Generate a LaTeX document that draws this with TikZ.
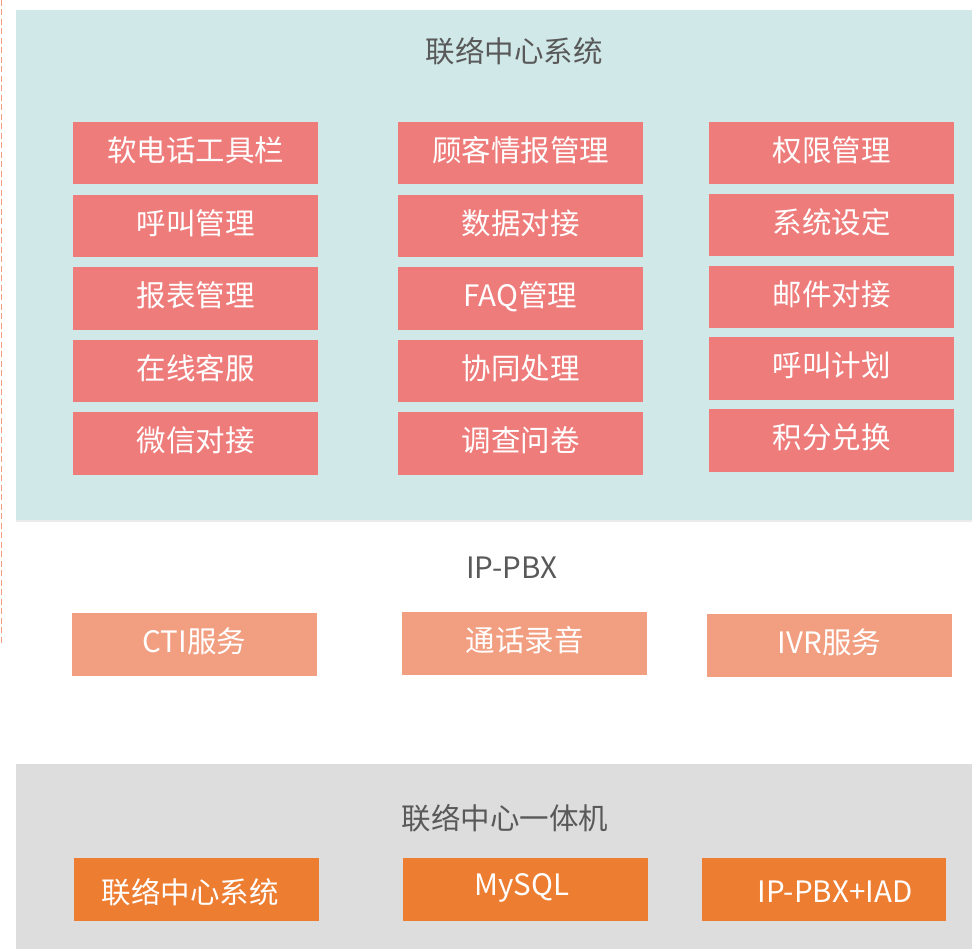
\documentclass[tikz,border=0pt]{standalone}
\usepackage{fontspec}
\setmainfont{Noto Sans CJK SC}
\definecolor{teal0}{HTML}{D0E9E8}
\definecolor{redbox}{HTML}{EE7C7B}
\definecolor{salbox}{HTML}{F29E80}
\definecolor{orbox}{HTML}{ED7D31}
\definecolor{graybg}{HTML}{DCDDDC}
\definecolor{titletxt}{HTML}{595959}
\definecolor{dashc}{HTML}{F29C80}
\tikzset{
  fbox/.style={anchor=north west, inner sep=0pt, outer sep=0pt, text=white,
     font=\fontsize{29.5}{32}\selectfont, minimum width=245pt, minimum height=62.5pt,
     text height=24pt, text depth=7.6pt},
  redb/.style={fbox, fill=redbox},
  salb/.style={fbox, fill=salbox},
  orb/.style={fbox, fill=orbox},
  ttl/.style={text=titletxt, font=\fontsize{29.5}{32}\selectfont, inner sep=0pt},
  wtxt/.style={text=white, font=\fontsize{29.5}{32}\selectfont, inner sep=0pt},
}
\begin{document}
\begin{tikzpicture}[x=1pt,y=-1pt]
\useasboundingbox (0,0) rectangle (972,949);
\fill[white] (0,0) rectangle (972,949);
% panels
\fill[graybg!60] (16,518) rectangle (972,522);
\fill[teal0] (16,10) rectangle (972,520);
\fill[graybg] (16,764) rectangle (972,949);
\draw[dashc, line width=1.5pt, dash pattern=on 6pt off 3.5pt] (1.5,0) -- (1.5,645);
% titles
\node[ttl] (t1) at (514,51) {联络中心系统};
\node[ttl] (t2) at (512,568) {IP-PBX};
\node[ttl] (t3) at (505,818) {联络中心一体机};
% column 1
\node[redb] (a1) at (73,122) {软电话工具栏};
\node[redb] (a2) at (73,195) {呼叫管理};
\node[redb] (a3) at (73,267.5) {报表管理};
\node[redb] (a4) at (73,340) {在线客服};
\node[redb] (a5) at (73,412.5) {微信对接};
% column 2
\node[redb] (b1) at (398,122) {顾客情报管理};
\node[redb] (b2) at (398,195) {数据对接};
\node[redb] (b3) at (398,267.5) {FAQ管理};
\node[redb] (b4) at (398,340) {协同处理};
\node[redb] (b5) at (398,412.5) {调查问卷};
% column 3
\node[redb] (c1) at (709,122) {权限管理};
\node[redb] (c2) at (709,194) {系统设定};
\node[redb] (c3) at (709,266) {邮件对接};
\node[redb] (c4) at (709,337.5) {呼叫计划};
\node[redb] (c5) at (709,409) {积分兑换};
% IP-PBX row
\node[salb] (d1) at (72,613) {CTI服务};
\node[salb] (d2) at (402,612) {通话录音};
\node[salb] (d3) at (707,614) {IVR服务};
% bottom row
\node[orb, minimum height=63pt] (e1) at (74,858) {};
\node[wtxt] (e1t) at (190,892) {联络中心系统};
\node[orb] (e2) at (403,858) {};
\node[wtxt] (e2t) at (522,888) {MySQL};
\node[orb, minimum width=244pt] (e3) at (702,858) {};
\node[wtxt] (e3t) at (835,892) {IP-PBX+IAD};
\end{tikzpicture}
\end{document}
